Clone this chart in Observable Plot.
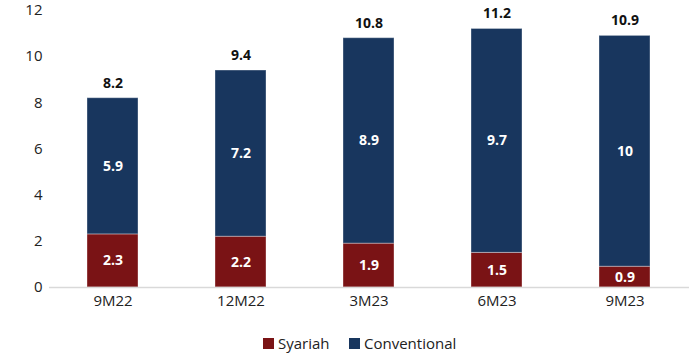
<!DOCTYPE html>
<html>
<head>
<meta charset="utf-8">
<script src="https://cdn.jsdelivr.net/npm/d3@7"></script>
<script src="https://cdn.jsdelivr.net/npm/@observablehq/plot@0.6"></script>
<style>
  html, body { margin: 0; padding: 0; background: #fff; }
  body { width: 697px; height: 356px; overflow: hidden; font-family: "Open Sans", sans-serif; }
  #chart { margin-top: -5px; }
  #legend { position: relative; height: 46px; }
  .item { position: absolute; top: 23px; display: flex; align-items: center; font-size: 15px; color: #222; }
  .sw { width: 11px; height: 11px; margin-right: 4px; }
</style>
</head>
<body>
<div id="chart"></div>
<div id="legend"></div>
<script>
const categories = ["9M22", "12M22", "3M23", "6M23", "9M23"];
const syariah = [2.3, 2.2, 1.9, 1.5, 0.9];
const conventional = [5.9, 7.2, 8.9, 9.7, 10];
const totals = [8.2, 9.4, 10.8, 11.2, 10.9];
const seriesNames = ["Syariah", "Conventional"];
const colors = ["#7a1315", "#18365e"];

const rows = [];
categories.forEach((c, i) => {
  rows.push({cat: c, series: "Syariah", value: syariah[i]});
  rows.push({cat: c, series: "Conventional", value: conventional[i]});
});
const totalRows = categories.map((c, i) => ({cat: c, total: totals[i]}));

const chart = Plot.plot({
  width: 697,
  height: 315,
  marginLeft: 49,
  marginRight: 8,
  marginTop: 15,
  marginBottom: 23,
  style: {fontFamily: "Open Sans, sans-serif", fontSize: "15px", color: "#222"},
  x: {domain: categories, paddingInner: 0.6, paddingOuter: 0.3, label: null, tickSize: 0, tickPadding: 8},
  y: {domain: [0, 12], ticks: [0, 2, 4, 6, 8, 10, 12], label: null, tickSize: 0, tickPadding: 7, fontSize: 14},
  color: {domain: seriesNames, range: colors},
  marks: [
    Plot.barY(rows, Plot.stackY({x: "cat", y: "value", z: "series", fill: "series", order: seriesNames, stroke: "#fff", strokeOpacity: 0.35, strokeWidth: 1})),
    Plot.ruleY([0], {stroke: "#d9d9d9", strokeWidth: 1.5}),
    Plot.text(rows, Plot.stackY({x: "cat", y: "value", z: "series", text: d => String(d.value), order: seriesNames, fill: "#fff", fontWeight: "bold", fontSize: 14})),
    Plot.text(totalRows, {x: "cat", y: "total", text: d => String(d.total), dy: -15, fill: "#111", fontWeight: "bold", fontSize: 14})
  ]
});
document.getElementById("chart").appendChild(chart);

const legend = document.getElementById("legend");
const pos = [263, 349];
seriesNames.forEach((s, i) => {
  const it = document.createElement("div");
  it.className = "item";
  it.style.left = pos[i] + "px";
  it.innerHTML = `<span class="sw" style="background:${colors[i]}"></span><span>${s}</span>`;
  legend.appendChild(it);
});
</script>
</body>
</html>
